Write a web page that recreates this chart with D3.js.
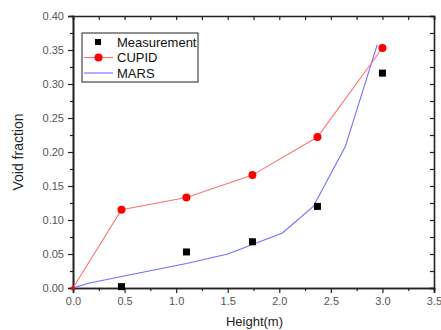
<!DOCTYPE html>
<html>
<head>
<meta charset="utf-8">
<script src="https://cdn.jsdelivr.net/npm/d3@7"></script>
<style>
  body { margin: 0; background: #fff; }
  svg { display: block; font-family: "Liberation Sans", Arial, sans-serif; }
</style>
</head>
<body>
<svg width="441" height="330"></svg>
<script>
var measX = [0.47, 1.1, 1.74, 2.37, 3.0],
    measY = [0.002, 0.053, 0.068, 0.12, 0.316];

var cupidX = [0, 0.47, 1.1, 1.74, 2.37, 3.0],
    cupidY = [0, 0.115, 0.133, 0.166, 0.222, 0.353];

var marsX = [0, 0.15, 0.47, 1.1, 1.5, 1.74, 2.03, 2.33, 2.64, 2.95],
    marsY = [0, 0.007, 0.017, 0.036, 0.05, 0.064, 0.081, 0.12, 0.208, 0.358];

var xTicks = [0, 0.5, 1, 1.5, 2, 2.5, 3, 3.5],
    yTicks = [0, 0.05, 0.1, 0.15, 0.2, 0.25, 0.3, 0.35, 0.4];

var svg = d3.select("svg"),
    margin = {top: 16, right: 7, bottom: 42, left: 73},
    width = +svg.attr("width") - margin.left - margin.right,
    height = +svg.attr("height") - margin.top - margin.bottom;

var x = d3.scaleLinear().domain([0, 3.5]).range([0, width]),
    y = d3.scaleLinear().domain([0, 0.4]).range([height, 0]);

var g = svg.append("g").attr("transform", "translate(" + margin.left + "," + margin.top + ")");

var xMinor = d3.range(0.25, 3.5, 0.5),
    yMinor = d3.range(0.025, 0.4, 0.05);

function styleAxis(sel) {
  sel.select(".domain").attr("stroke", "#222").attr("stroke-width", 1.6);
  sel.selectAll(".tick line").attr("stroke", "#222").attr("stroke-width", 1.2);
  sel.selectAll(".tick text").attr("fill", "#555").attr("font-size", 11);
}

// minor ticks first
g.append("g").attr("transform", "translate(0," + height + ")")
  .call(d3.axisBottom(x).tickValues(xMinor).tickSize(3).tickFormat(""))
  .call(styleAxis);
g.append("g")
  .call(d3.axisLeft(y).tickValues(yMinor).tickSize(3).tickFormat(""))
  .call(styleAxis);
g.append("g")
  .call(d3.axisTop(x).tickValues(d3.merge([xTicks, xMinor])).tickSize(-4).tickFormat(""))
  .call(styleAxis);
g.append("g").attr("transform", "translate(" + width + ",0)")
  .call(d3.axisRight(y).tickValues(d3.merge([yTicks, yMinor])).tickSize(-4).tickFormat(""))
  .call(styleAxis);

g.append("g").attr("transform", "translate(0," + height + ")")
  .call(d3.axisBottom(x).tickValues(xTicks).tickSize(5).tickPadding(4).tickFormat(d3.format(".1f")))
  .call(styleAxis);
g.append("g")
  .call(d3.axisLeft(y).tickValues(yTicks).tickSize(5).tickPadding(4).tickFormat(d3.format(".2f")))
  .call(styleAxis);

var line = d3.line().x(function (d) { return x(d[0]); }).y(function (d) { return y(d[1]); });

var mars = d3.zip(marsX, marsY),
    cupid = d3.zip(cupidX, cupidY),
    meas = d3.zip(measX, measY);

g.append("path").datum(mars).attr("d", line)
  .attr("fill", "none").attr("stroke", "#6f6fff").attr("stroke-width", 1.1);

g.append("path").datum(cupid).attr("d", line)
  .attr("fill", "none").attr("stroke", "#ff7070").attr("stroke-width", 1.1);

g.selectAll(".cupid").data(cupid).enter().append("circle")
  .attr("cx", function (d) { return x(d[0]); })
  .attr("cy", function (d) { return y(d[1]); })
  .attr("r", function (d) { return d[0] === 0 ? 2 : 4; })
  .attr("fill", "#ff0000");

g.selectAll(".meas").data(meas).enter().append("rect")
  .attr("x", function (d) { return x(d[0]) - 3.5; })
  .attr("y", function (d) { return y(d[1]) - 3.5; })
  .attr("width", 7).attr("height", 7)
  .attr("fill", "#000");

// legend
var legend = svg.append("g").attr("transform", "translate(82,33)");
legend.append("rect").attr("width", 116).attr("height", 49)
  .attr("fill", "#fff").attr("stroke", "#222").attr("stroke-width", 1);

var leg = legend.selectAll(".item").data(["Measurement", "CUPID", "MARS"]).enter().append("g")
  .attr("transform", function (d, i) { return "translate(0," + (9 + i * 15.5) + ")"; });

leg.filter(function (d, i) { return i === 1; }).append("line")
  .attr("x1", 2).attr("x2", 31).attr("stroke", "#ff7070").attr("stroke-width", 1.1);
leg.filter(function (d, i) { return i === 1; }).append("circle")
  .attr("cx", 16.5).attr("r", 4).attr("fill", "#ff0000");
leg.filter(function (d, i) { return i === 0; }).append("rect")
  .attr("x", 13).attr("y", -3).attr("width", 6).attr("height", 6).attr("fill", "#000");
leg.filter(function (d, i) { return i === 2; }).append("line")
  .attr("x1", 2).attr("x2", 31).attr("stroke", "#6f6fff").attr("stroke-width", 1.1);

leg.append("text").attr("x", 35).attr("dy", "0.35em")
  .attr("font-size", 13).attr("fill", "#111")
  .text(function (d) { return d; });

// axis titles
svg.append("text")
  .attr("x", margin.left + x(1.75) + 1).attr("y", 326)
  .attr("text-anchor", "middle").attr("font-size", 13).attr("fill", "#222")
  .text("Height(m)");

svg.append("text")
  .attr("transform", "translate(23," + (margin.top + y(0.2)) + ") rotate(-90)")
  .attr("text-anchor", "middle").attr("font-size", 14).attr("fill", "#222")
  .text("Void fraction");
</script>
</body>
</html>
